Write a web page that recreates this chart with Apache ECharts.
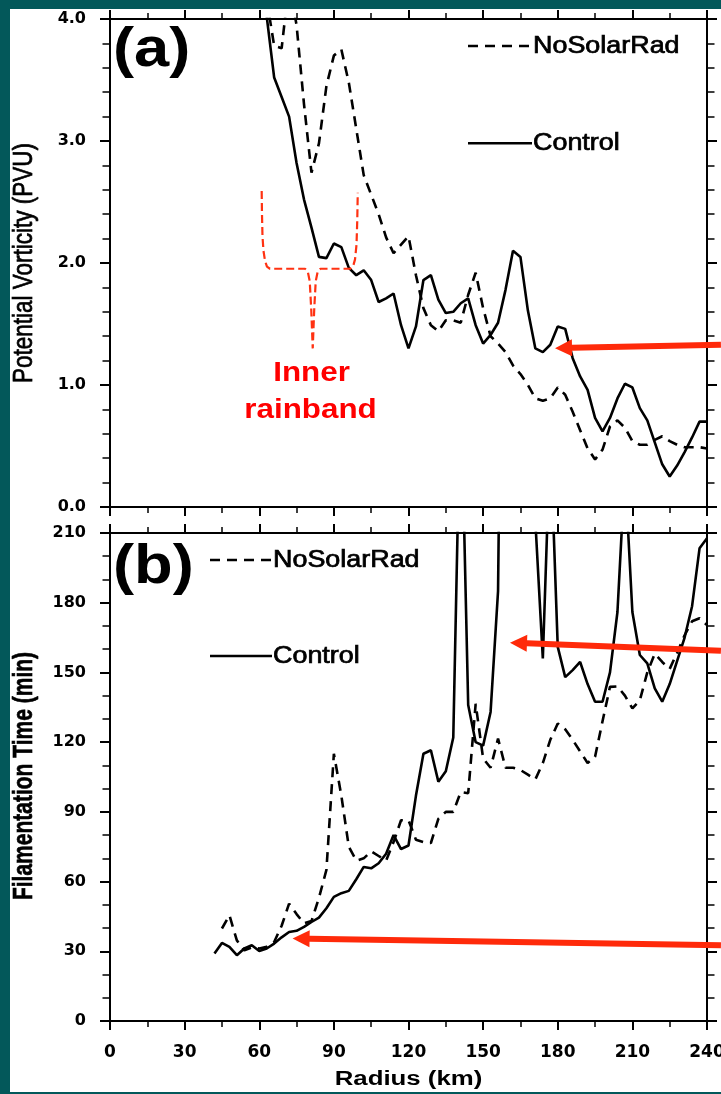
<!DOCTYPE html>
<html>
<head>
<meta charset="utf-8">
<script src="https://cdn.jsdelivr.net/npm/echarts@6/dist/echarts.min.js"></script>
<style>
  html, body { margin: 0; padding: 0; width: 721px; height: 1094px; background: #03585a; overflow: hidden; }
  #chart { position: absolute; left: 10px; top: 9px; width: 711px; height: 1083px; background: #ffffff; }
</style>
</head>
<body>
<div id="chart"></div>
<script>
// ---- Panel (a): potential vorticity (PVU) vs radius (km) ----
const radiusPV = [63, 66, 69, 72, 75, 78, 81, 84, 87, 90,
  93, 96, 99, 102, 105, 108, 111, 114, 117, 120,
  123, 126, 129, 132, 135, 138, 141, 144, 147, 150,
  153, 156, 159, 162, 165, 168, 171, 174, 177, 180,
  183, 186, 189, 192, 195, 198, 201, 204, 207, 210,
  213, 216, 219, 222, 225, 228, 231, 234, 237, 240];
const pvControl = [4.02, 3.52, 3.36, 3.20, 2.82, 2.52, 2.29, 2.05, 2.04, 2.16,
  2.13, 1.96, 1.90, 1.94, 1.86, 1.68, 1.71, 1.75, 1.49, 1.30,
  1.48, 1.86, 1.90, 1.70, 1.59, 1.60, 1.67, 1.71, 1.49, 1.34,
  1.41, 1.51, 1.78, 2.10, 2.05, 1.61, 1.30, 1.27, 1.33, 1.48,
  1.46, 1.22, 1.07, 0.96, 0.73, 0.62, 0.73, 0.89, 1.01, 0.98,
  0.81, 0.71, 0.53, 0.35, 0.25, 0.34, 0.45, 0.57, 0.70, 0.70];
const pvNoSolarRad = [4.16, 3.78, 3.76, 4.30, 3.95, 3.30, 2.74, 2.98, 3.45, 3.70,
  3.75, 3.48, 3.10, 2.72, 2.56, 2.40, 2.21, 2.08, 2.15, 2.22,
  1.90, 1.63, 1.49, 1.44, 1.53, 1.53, 1.51, 1.74, 1.92, 1.63,
  1.40, 1.34, 1.27, 1.16, 1.09, 1.00, 0.89, 0.87, 0.89, 0.98,
  0.92, 0.78, 0.63, 0.48, 0.39, 0.47, 0.66, 0.71, 0.65, 0.54,
  0.51, 0.51, 0.55, 0.58, 0.54, 0.51, 0.49, 0.49, 0.49, 0.48];

// ---- Panel (b): filamentation time (min) vs radius (km) ----
// null = value far above the top of the axis (curve leaves the frame)
const radiusFT = [42, 45, 48, 51, 54, 57, 60, 63, 66, 69,
  72, 75, 78, 81, 84, 87, 90, 93, 96, 99,
  102, 105, 108, 111, 114, 117, 120, 123, 126, 129,
  132, 135, 138, 141, 144, 147, 150, 153, 156, 159,
  162, 165, 168, 171, 174, 177, 180, 183, 186, 189,
  192, 195, 198, 201, 204, 207, 210, 213, 216, 219,
  222, 225, 228, 231, 234, 237, 240];
const ftControl = [29.0, 33.6, 31.9, 28.3, 31.2, 32.6, 30.1, 31.2, 33.3, 36.0,
  38.3, 38.8, 40.5, 42.6, 44.5, 48.5, 53.4, 55.0, 56.0, 61.0,
  66.3, 65.7, 67.9, 72.0, 80.0, 74.0, 75.5, 97.0, 115.0, 116.5,
  103.0, 107.5, 122.0, 277, 136, 120, 118.5, 133, 185, 480,
  null, null, null, 215, 156, 252, 161, 148, 151, 154.5,
  145, 137.4, 137.4, 150, 176, 237, 176, 157.5, 153.9, 143.1,
  137.4, 145, 155, 165, 178.5, 203.4, 207.7];
const ftNoSolarRad = [null, 39.8, 45.5, 34.7, 30.4, 31.7, 31.2, 31.9, 34.0, 41.0,
  50.5, 46.0, 42.0, 43.0, 53.0, 65.0, 115.0, 97.0, 75.0, 69.0,
  70.0, 73.0, 71.0, 69.0, 77.0, 86.4, 86.4, 78.0, 77.0, 76.6,
  87.0, 90.0, 90.0, 98.5, 98.0, 136.5, 113.0, 109.0, 121.5, 109.0,
  109.0, 108.0, 106.0, 104.0, 111.0, 121.0, 128.0, 125.5, 121.0, 116.0,
  111.0, 113.7, 129.0, 143.8, 144.0, 140.0, 134.5, 138.0, 150.0, 158.0,
  154.5, 151.5, 158.5, 166.0, 172.0, 173.3, 170.4];

// ---- axis ranges [min, max, major interval, minor divisions] ----
const radiusAxis = [0, 240, 30, 2];
const pvAxis = [0, 4, 1, 5];
const ftAxis = [0, 210, 30, 3];

// ---- annotations (data coordinates) ----
// dashed red brace marking the inner rainband
const braceKm = [60.98, 61.1, 61.3, 61.7, 62.3, 63.1, 64.3, 78.4, 79.5, 80.3, 80.9, 81.5, 82.1, 82.7, 83.5, 84.6, 96.5, 97.7, 98.5, 99.1, 99.4, 99.6];
const bracePv = [2.59, 2.40, 2.22, 2.10, 2.02, 1.97, 1.953, 1.953, 1.93, 1.85, 1.62, 1.30, 1.62, 1.85, 1.93, 1.953, 1.953, 1.97, 2.03, 2.15, 2.35, 2.575];
// arrows: [tail radius, tail value, tip radius, tip value]
const arrowA = [245.6, 1.329, 178.9, 1.302];
const arrowB1 = [245.6, 159.3, 160.8, 162.8];
const arrowB2 = [245.6, 32.6, 73.4, 35.5];

const seriesNames = ['NoSolarRad', 'Control'];

const INK = '#000000';
const RED = '#ff2a0a';
const DASH = [10, 7];
const LW = 2.6;

function pairs(xs, ys) { return xs.map((x, i) => [x, ys[i]]); }

function xAxisFor(gridIndex, position, showLabels) {
  return {
    type: 'value', gridIndex, position,
    min: radiusAxis[0], max: radiusAxis[1], interval: radiusAxis[2],
    axisLine: { show: true, onZero: false, lineStyle: { color: INK, width: 2 } },
    axisTick: { show: true, inside: false, length: 9, lineStyle: { color: INK, width: 2 } },
    minorTick: { show: true, splitNumber: radiusAxis[3], length: 6, lineStyle: { color: INK, width: 1.5 } },
    axisLabel: { show: showLabels, margin: 23, color: INK, fontFamily: 'DejaVu Sans', fontWeight: 'bold', fontSize: 17,
      hideOverlap: false },
    splitLine: { show: false }, minorSplitLine: { show: false }
  };
}
function yAxisFor(gridIndex, position, range, showLabels, fmt) {
  return {
    type: 'value', gridIndex, position,
    min: range[0], max: range[1], interval: range[2],
    axisLine: { show: true, onZero: false, lineStyle: { color: INK, width: 2 } },
    axisTick: { show: true, inside: false, length: 10, lineStyle: { color: INK, width: 2 } },
    minorTick: { show: true, splitNumber: range[3], length: 7.5, lineStyle: { color: INK, width: 1.5 } },
    axisLabel: { show: showLabels, margin: 24, color: INK, fontFamily: 'DejaVu Sans', fontWeight: 'bold', fontSize: 16, formatter: fmt },
    splitLine: { show: false }, minorSplitLine: { show: false }
  };
}

const chart = echarts.init(document.getElementById('chart'), null, { renderer: 'canvas' });

// fixed frame geometry: labels may run past the canvas edge, the grid must not shrink
const gridBase = { left: 100, width: 597, height: 488, containLabel: false, outerBoundsMode: 'none' };

chart.setOption({
  animation: false,
  grid: [
    Object.assign({ top: 10 }, gridBase),
    Object.assign({ top: 524 }, gridBase)
  ],
  xAxis: [
    xAxisFor(0, 'bottom', false),
    xAxisFor(0, 'top', false),
    xAxisFor(1, 'bottom', true),
    xAxisFor(1, 'top', false)
  ],
  yAxis: [
    yAxisFor(0, 'left', pvAxis, true, v => v.toFixed(1)),
    yAxisFor(0, 'right', pvAxis, false),
    yAxisFor(1, 'left', ftAxis, true, v => String(v)),
    yAxisFor(1, 'right', ftAxis, false)
  ],
  series: [
    { name: seriesNames[0], type: 'line', xAxisIndex: 0, yAxisIndex: 0, data: pairs(radiusPV, pvNoSolarRad),
      symbol: 'none', clip: true, lineStyle: { color: INK, width: LW, type: DASH } },
    { name: seriesNames[1], type: 'line', xAxisIndex: 0, yAxisIndex: 0, data: pairs(radiusPV, pvControl),
      symbol: 'none', clip: true, lineStyle: { color: INK, width: LW } },
    { name: 'brace', type: 'line', xAxisIndex: 0, yAxisIndex: 0, data: pairs(braceKm, bracePv),
      symbol: 'none', clip: true, silent: true, lineStyle: { color: '#ff3212', width: 2.2, type: [8, 4] } },
    { name: seriesNames[0], type: 'line', xAxisIndex: 2, yAxisIndex: 2, data: pairs(radiusFT, ftNoSolarRad),
      symbol: 'none', clip: true, connectNulls: false, lineStyle: { color: INK, width: LW, type: DASH } },
    { name: seriesNames[1], type: 'line', xAxisIndex: 2, yAxisIndex: 2, data: pairs(radiusFT, ftControl),
      symbol: 'none', clip: true, connectNulls: false, lineStyle: { color: INK, width: LW } }
  ]
});

// ---- overlay: panel letters, legends, axis titles, annotations ----
function arrowShape(tail, tip, shaftW, headL, headW) {
  const dx = tip[0] - tail[0], dy = tip[1] - tail[1];
  const len = Math.hypot(dx, dy);
  const ux = dx / len, uy = dy / len, nx = -uy, ny = ux;
  const bx = tip[0] - ux * headL, by = tip[1] - uy * headL;
  const s = shaftW / 2;
  return [
    [tail[0] + nx * s, tail[1] + ny * s], [bx + nx * s, by + ny * s], [bx + nx * headW, by + ny * headW],
    [tip[0], tip[1]],
    [bx - nx * headW, by - ny * headW], [bx - nx * s, by - ny * s], [tail[0] - nx * s, tail[1] - ny * s]
  ];
}
function arrowEl(spec, gridIdx) {
  const axes = gridIdx === 0 ? { xAxisIndex: 0, yAxisIndex: 0 } : { xAxisIndex: 2, yAxisIndex: 2 };
  const tail = chart.convertToPixel(axes, [spec[0], spec[1]]);
  const tip = chart.convertToPixel(axes, [spec[2], spec[3]]);
  return { type: 'polygon', silent: true, z: 50, shape: { points: arrowShape(tail, tip, 6, 17, 8.5) }, style: { fill: RED } };
}
function label(text, x, y, font, opts) {
  opts = opts || {};
  const fill = opts.fill || INK;
  const style = { text, font, fill,
    textAlign: opts.align || 'left', align: opts.align || 'left',
    textVerticalAlign: 'middle', verticalAlign: 'middle' };
  if (opts.heavy) { style.stroke = fill; style.lineWidth = opts.heavy; }
  return {
    type: 'text', x, y, silent: true, z: 60,
    rotation: opts.rotation || 0, scaleX: opts.sx || 1, scaleY: opts.sy || 1,
    style
  };
}
function legendLine(x1, x2, y, dashed) {
  return { type: 'line', silent: true, z: 60, shape: { x1, y1: y, x2, y2: y },
    style: { stroke: INK, lineWidth: LW, lineDash: dashed ? DASH : null } };
}

const HV = '"Liberation Sans", Arial, Helvetica, sans-serif';
chart.setOption({
  graphic: [
    label('(a)', 103, 42, 'bold 56px ' + HV, { sx: 1.13 }),
    label('(b)', 103, 559, 'bold 56px ' + HV, { sx: 1.13 }),

    legendLine(458, 522, 37, true),
    label(seriesNames[0], 523, 37.5, '23px ' + HV, { sx: 1.17, heavy: 0.7 }),
    legendLine(458, 522, 134.3, false),
    label(seriesNames[1], 523, 134.5, '23px ' + HV, { sx: 1.17, heavy: 0.7 }),

    legendLine(200, 262, 551, true),
    label(seriesNames[0], 263, 551.5, '23px ' + HV, { sx: 1.17, heavy: 0.7 }),
    legendLine(200, 262, 647, false),
    label(seriesNames[1], 263, 647.5, '23px ' + HV, { sx: 1.17, heavy: 0.7 }),

    label('Potential Vorticity (PVU)', 14.5, 254, '22.5px ' + HV, { rotation: Math.PI / 2, sy: 1.25, align: 'center', heavy: 0.6 }),
    label('Filamentation Time (min)', 14, 767, 'bold 21px ' + HV, { rotation: Math.PI / 2, sy: 1.33, align: 'center', heavy: 0.5 }),
    label('Radius (km)', 398.5, 1070, 'bold 20px ' + HV, { sx: 1.29, align: 'center' }),

    label('Inner', 301.5, 364.5, 'bold 28px ' + HV, { sx: 1.12, align: 'center', fill: '#ff0000' }),
    label('rainband', 300.5, 401, 'bold 28px ' + HV, { sx: 1.12, align: 'center', fill: '#ff0000' }),

    arrowEl(arrowA, 0),
    arrowEl(arrowB1, 1),
    arrowEl(arrowB2, 1)
  ]
});
</script>
</body>
</html>
